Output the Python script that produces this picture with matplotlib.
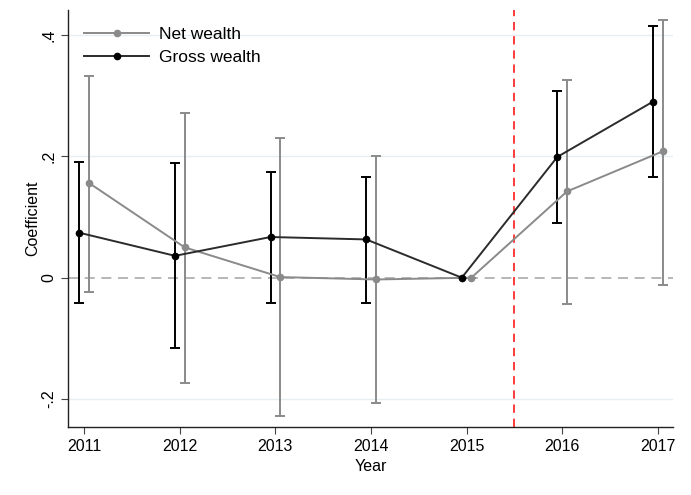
import numpy as np
import matplotlib.pyplot as plt

plt.rcParams['font.family'] = ['Liberation Sans', 'DejaVu Sans']

years = np.array([2011, 2012, 2013, 2014, 2015, 2016, 2017])

net_coef = [0.156, 0.050, 0.001, -0.003, 0.0, 0.142, 0.208]
net_lo = [-0.023, -0.173, -0.228, -0.207, 0.0, -0.043, -0.012]
net_hi = [0.333, 0.272, 0.230, 0.200, 0.0, 0.326, 0.425]

gross_coef = [0.074, 0.036, 0.067, 0.063, 0.0, 0.199, 0.290]
gross_lo = [-0.041, -0.116, -0.042, -0.042, 0.0, 0.090, 0.166]
gross_hi = [0.190, 0.189, 0.174, 0.166, 0.0, 0.308, 0.414]

ytick_vals = [-0.2, 0, 0.2, 0.4]
ytick_labels = ['-.2', '0', '.2', '.4']

grey = '#8a8a8a'

fig = plt.figure(figsize=(6.91, 4.95), dpi=100)
ax = fig.add_axes([0.0984, 0.1374, 0.8756, 0.8424])

for v in ytick_vals:
    if v != 0:
        ax.axhline(v, color='#e6eff0', lw=1, zorder=0)
ax.axhline(0, color='#aaaaaa', lw=1.2, ls=(0, (6, 4)), zorder=1)
ax.axvline(2015.5, color='#ff1a1a', lw=1.2, ls=(0, (5, 3.5)), zorder=1)

def draw(x, coef, lo, hi, color, lcolor, label):
    coef = np.array(coef)
    yerr = [coef - np.array(lo), np.array(hi) - coef]
    ax.errorbar(x, coef, yerr=yerr, fmt='none', ecolor=color, elinewidth=1.4,
                capsize=3.5, capthick=1.4, zorder=2)
    ax.plot(x, coef, color=lcolor, lw=1.4, marker='o', ms=4.5,
            mfc=color, mec=color, label=label, zorder=3)

draw(years + 0.05, net_coef, net_lo, net_hi, grey, grey, 'Net wealth')
draw(years - 0.05, gross_coef, gross_lo, gross_hi, 'black', '#2b2b2b', 'Gross wealth')

ax.set_xlim(2010.83, 2017.16)
ax.set_ylim(-0.246, 0.441)
ax.set_xticks(years)
ax.set_xticklabels([str(y) for y in years], fontsize=11.5)
ax.set_yticks(ytick_vals)
ax.set_yticklabels(ytick_labels, fontsize=11.5, rotation=90, va='center')
ax.set_xlabel('Year', fontsize=11.5, labelpad=4)
ax.set_ylabel('Coefficient', fontsize=11.5, labelpad=1)

for s in ['top', 'right']:
    ax.spines[s].set_visible(False)
for s in ['left', 'bottom']:
    ax.spines[s].set_color('#222222')
    ax.spines[s].set_linewidth(1)
ax.tick_params(length=5, color='#444444')

ax.legend(loc='upper left', frameon=False, fontsize=12.5, handlelength=3.7,
          handletextpad=0.6, borderaxespad=0.2, bbox_to_anchor=(0.01, 0.985),
          labelspacing=0.45)

fig.savefig('out.png', dpi=100)
